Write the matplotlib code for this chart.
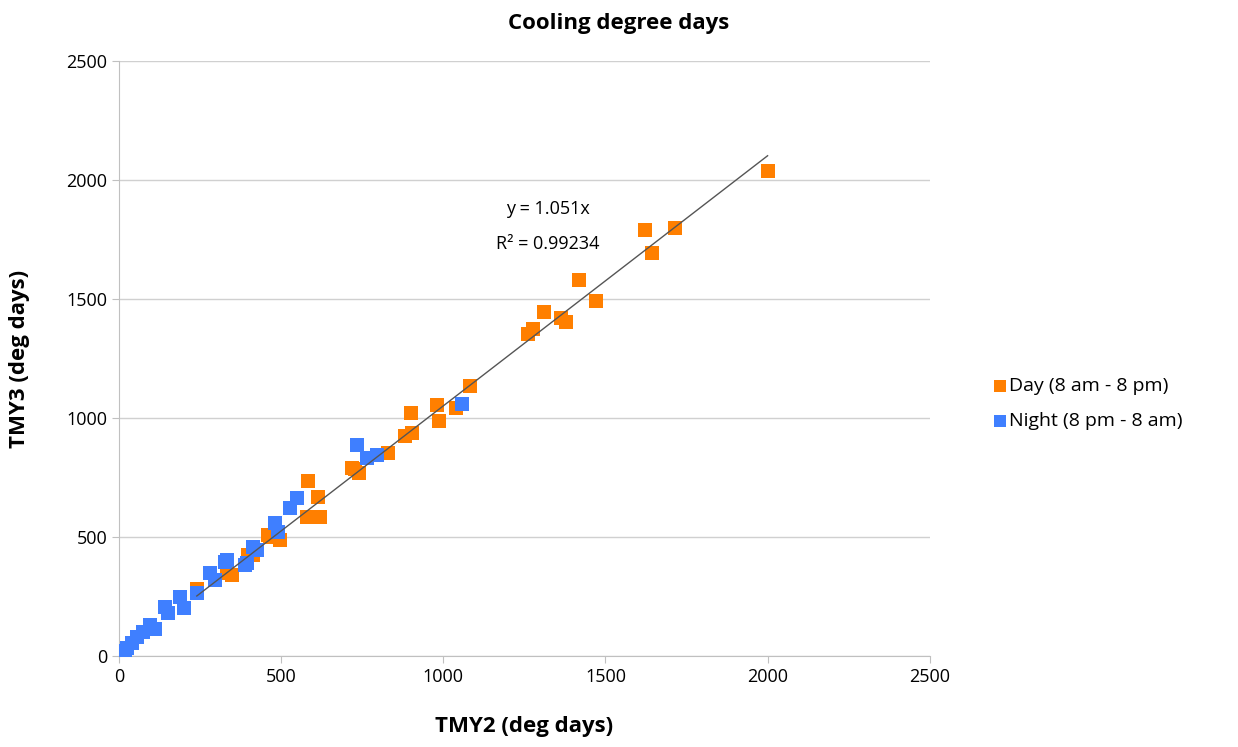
import numpy as np
from matplotlib import pyplot as plt

# values
day_x = [240, 333, 348, 398, 413, 459, 465, 496, 580, 583, 598, 613, 620, 718, 727,
         740, 829, 882, 900, 903, 980, 986, 1039, 1082, 1261, 1276, 1310, 1362, 1378,
         1418, 1470, 1621, 1643, 1714, 2000]
day_y = [280, 349, 340, 424, 424, 508, 500, 487, 584, 735, 584, 668, 584, 790, 786,
         769, 853, 924, 1021, 937, 1055, 987, 1042, 1134, 1353, 1374, 1445, 1420, 1403,
         1580, 1492, 1790, 1693, 1798, 2038]

night_x = [18, 25, 40, 55, 75, 96, 110, 142, 150, 188, 200, 240, 280, 295, 327, 333,
           388, 395, 413, 425, 481, 490, 527, 549, 734, 764, 795, 1057]
night_y = [20, 34, 55, 80, 100, 130, 115, 206, 180, 248, 200, 265, 349, 320, 395, 403,
           382, 391, 458, 445, 559, 521, 622, 664, 886, 832, 845, 1059]

slope = 1.051
r2 = 0.99234

ORANGE = "#ff7f00"
BLUE = "#3f7fff"

plt.rcParams["font.family"] = ["Open Sans", "DejaVu Sans"]

fig = plt.figure(figsize=(12.38, 7.47), dpi=100)
ax = fig.add_axes([0.0961, 0.1218, 0.6549, 0.7965])

ax.scatter(day_x, day_y, marker="s", s=105, color=ORANGE, linewidths=0,
           label="Day (8 am - 8 pm)", zorder=3)
ax.scatter(night_x, night_y, marker="s", s=105, color=BLUE, linewidths=0,
           label="Night (8 pm - 8 am)", zorder=3)

# trendline through origin over the day series range
fit_x = np.array([min(day_x), max(day_x)])
ax.plot(fit_x, slope * fit_x, color="#555555", linewidth=1, zorder=4)
ax.text(1322, 1878, f"y = {slope}x", ha="center", va="center", fontsize=13)
ax.text(1322, 1731, f"R² = {r2}", ha="center", va="center", fontsize=13)

ax.set_xlim(0, 2500)
ax.set_ylim(0, 2500)
ax.set_xticks(range(0, 2501, 500))
ax.set_yticks(range(0, 2501, 500))
ax.grid(axis="y", color="#d0d0d0", linewidth=1)
ax.set_axisbelow(True)
for side in ["top", "right"]:
    ax.spines[side].set_visible(False)
for side in ["left", "bottom"]:
    ax.spines[side].set_color("#c0c0c0")
ax.tick_params(colors="#c0c0c0", labelcolor="black", labelsize=13, length=5)

ax.set_xlabel("TMY2 (deg days)", fontsize=16, fontweight="bold", labelpad=22)
ax.set_ylabel("TMY3 (deg days)", fontsize=16, fontweight="bold", labelpad=26)
fig.text(0.5, 0.968, "Cooling degree days", ha="center", va="center",
         fontsize=16, fontweight="bold")

fig.legend(loc="center left", bbox_to_anchor=(0.787, 0.46), frameon=False,
           fontsize=14, handletextpad=0.1, handlelength=0.8, markerscale=0.8,
           labelspacing=0.85)

fig.savefig("out.png", dpi=100)
